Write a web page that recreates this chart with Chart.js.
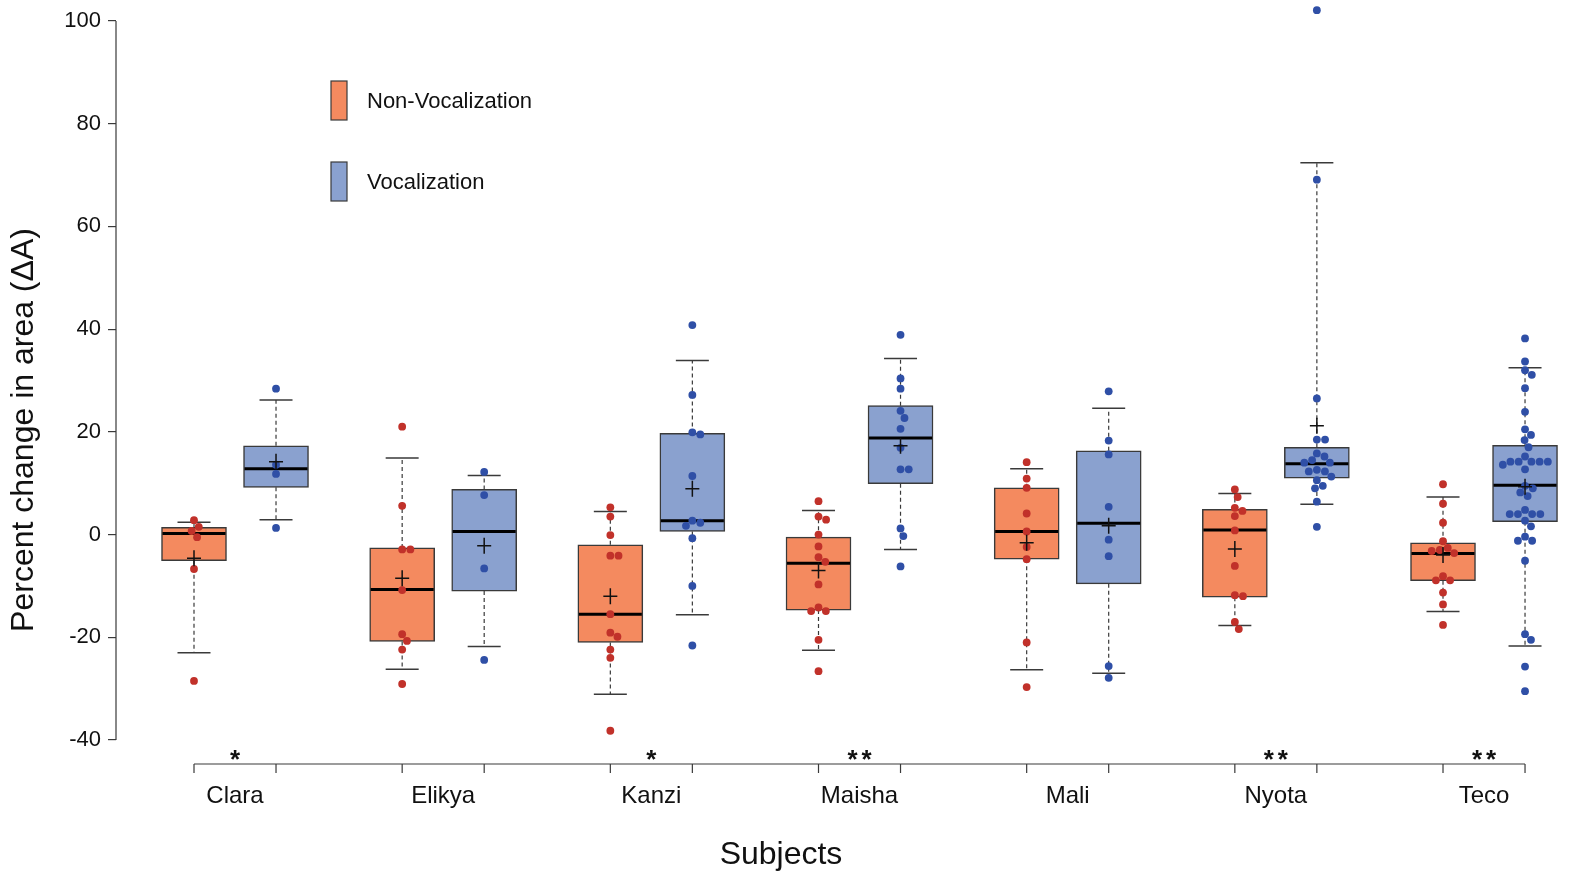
<!DOCTYPE html>
<html><head><meta charset="utf-8">
<script src="https://cdn.jsdelivr.net/npm/chart.js@4"></script>
<style>html,body{margin:0;padding:0;background:#fff;}#wrap{width:1571px;height:876px;position:relative;}</style>
</head><body><div id="wrap"><canvas id="c"></canvas></div>
<script>
// ---------------- data ----------------
const subjects = ['Clara','Elikya','Kanzi','Maisha','Mali','Nyota','Teco'];
const seriesNames = ['Non-Vocalization','Vocalization'];
const yTickValues = [-40,-20,0,20,40,60,80,100];
const significance = ['*','','*','**','','**','**'];

const nvQ1          = [-5.1, -20.8, -21.0, -14.7, -4.8, -12.2, -9.0];
const nvMedian      = [ 0.2, -10.7, -15.5,  -5.6,  0.6,   0.9, -3.7];
const nvQ3          = [ 1.4,  -2.6,  -2.0,  -0.5,  9.1,   4.9, -1.6];
const nvMean        = [-4.6,  -8.5, -12.0,  -7.0, -1.6,  -2.8, -4.0];
const nvWhiskerLow  = [-23.0, -26.2, -31.1, -22.5, -26.3, -17.7, -15.0];
const nvWhiskerHigh = [ 2.4,  14.9,   4.5,   4.7,  12.8,   8.0,   7.3];
const nvPoints = [
  [2.8, 1.5, 0.7, -0.5, -6.7, -28.5],
  [21.0, 5.6, -2.9, -2.9, -10.8, -19.4, -20.7, -22.4, -29.1],
  [5.3, 3.5, -0.1, -4.1, -4.1, -15.5, -19.1, -19.9, -22.4, -24.0, -38.2],
  [6.5, 3.5, 2.9, 0.0, -2.3, -4.4, -5.3, -9.7, -14.2, -14.9, -14.9, -20.5, -26.6],
  [14.1, 10.9, 9.1, 4.1, 0.6, -2.4, -4.8, -21.0, -29.7],
  [8.8, 7.3, 5.2, 4.6, 3.6, 0.8, -6.1, -11.8, -12.0, -17.0, -18.4],
  [9.8, 6.0, 2.3, -1.3, -2.6, -3.0, -3.2, -3.6, -8.1, -8.9, -8.9, -11.3, -13.6, -17.6]
];

const vQ1          = [ 9.2, -11.0,   0.6,  9.9,  -9.6, 11.0,   2.5];
const vMedian      = [12.8,   0.6,   2.7, 18.8,   2.2, 13.8,   9.6];
const vQ3          = [17.3,   8.8,  19.7, 25.1,  16.3, 17.0,  17.4];
const vMean        = [14.2,  -2.2,   8.9, 17.3,   1.7, 21.2,   9.3];
const vWhiskerLow  = [ 2.9, -21.8, -15.6, -2.9, -27.0,  5.9, -21.7];
const vWhiskerHigh = [26.2,  11.5,  33.9, 34.3,  24.6, 72.4,  32.5];
const vPoints = [
  [28.4, 13.6, 11.8, 1.3],
  [12.2, 7.7, -6.6, -24.4],
  [40.8, 27.2, 19.9, 19.5, 11.4, 2.7, 2.3, 1.7, -0.7, -10.0, -21.6],
  [38.9, 30.4, 28.4, 24.1, 22.7, 20.6, 16.9, 12.7, 12.7, 1.2, -0.3, -6.2],
  [27.9, 18.3, 15.6, 5.4, -1.0, -4.2, -25.6, -27.9],
  [102.1, 69.1, 26.5, 18.5, 18.5, 15.8, 15.2, 14.5, 14.0, 14.0, 12.6, 12.3, 12.3, 11.3, 10.6, 9.5, 9.0, 6.4, 1.5],
  [38.2, 33.7, 32.0, 31.1, 28.5, 23.9, 20.5, 19.4, 18.4, 17.0, 15.2, 14.2, 14.2, 14.2, 14.2, 14.2, 13.6, 12.7, 9.5, 9.0, 8.2, 7.5, 4.8, 4.0, 4.0, 4.0, 4.0, 2.7, 1.6, -0.4, -1.2, -1.2, -5.1, -19.4, -20.5, -25.7, -30.5]
];

// ---------------- styling / layout ----------------
const FONT = "'Liberation Sans', Arial, Helvetica, sans-serif";
const TEXT = '#111111';
const LINE = '#3a3a3a';
const PAIR = 0.197;       // half distance between the two boxes of a subject (x units)
const BOX_W = 65, CAP_W = 33, R = 3.9;

const series = [
  {name: seriesNames[0], off: -PAIR, q1: nvQ1, med: nvMedian, q3: nvQ3, mean: nvMean,
   lo: nvWhiskerLow, hi: nvWhiskerHigh, pts: nvPoints, box: '#F48A5F', pt: '#C1312A'},
  {name: seriesNames[1], off: PAIR, q1: vQ1, med: vMedian, q3: vQ3, mean: vMean,
   lo: vWhiskerLow, hi: vWhiskerHigh, pts: vPoints, box: '#8AA1CF', pt: '#2F4FA6'}
];

Chart.defaults.font.family = FONT;
Chart.defaults.color = TEXT;

const datasets = [];
series.forEach(s => datasets.push({
  type: 'bar', label: s.name,
  data: subjects.map((_, i) => ({x: i + s.off, y: [s.q1[i], s.q3[i]]})),
  backgroundColor: s.box, borderColor: LINE, borderWidth: 1.5, borderSkipped: false,
  barThickness: BOX_W, grouped: false, order: 3
}));
series.forEach(s => datasets.push({
  type: 'scatter', label: s.name + ' points',
  data: subjects.flatMap((_, i) => s.pts[i].map(v => ({x: i + s.off, y: v}))),
  backgroundColor: s.pt, borderWidth: 0, pointRadius: R, pointHoverRadius: R, order: 1
}));

function swarm(vals, toPx, d) {
  const idx = vals.map((v, i) => i).sort((a, b) => vals[b] - vals[a]);
  const placed = [], off = new Array(vals.length).fill(0);
  for (const i of idx) {
    const y = toPx(vals[i]);
    const near = placed.filter(p => Math.abs(p.y - y) < d);
    const cands = [0];
    near.forEach(p => { const dx = Math.sqrt(d * d - (p.y - y) ** 2); cands.push(p.x + dx, p.x - dx); });
    cands.sort((a, b) => (Math.abs(a) - Math.abs(b)) || (b - a));
    const x = cands.find(c => near.every(p => (p.x - c) ** 2 + (p.y - y) ** 2 >= d * d - 1e-6));
    placed.push({x, y}); off[i] = x;
  }
  return off;
}

const boxPlugin = {
  id: 'boxExtras',
  afterDatasetDraw(chart, args) {
    if (args.index > 1) return;
    const s = series[args.index];
    const {ctx, scales: {x, y}} = chart;
    ctx.save();
    subjects.forEach((_, i) => {
      const cx = x.getPixelForValue(i + s.off);
      ctx.strokeStyle = LINE; ctx.lineWidth = 1.2; ctx.setLineDash([4, 3]);
      ctx.beginPath();
      ctx.moveTo(cx, y.getPixelForValue(s.q3[i])); ctx.lineTo(cx, y.getPixelForValue(s.hi[i]));
      ctx.moveTo(cx, y.getPixelForValue(s.q1[i])); ctx.lineTo(cx, y.getPixelForValue(s.lo[i]));
      ctx.stroke();
      ctx.setLineDash([]); ctx.lineWidth = 1.5;
      ctx.beginPath();
      [s.hi[i], s.lo[i]].forEach(v => {
        const py = y.getPixelForValue(v);
        ctx.moveTo(cx - CAP_W / 2, py); ctx.lineTo(cx + CAP_W / 2, py);
      });
      ctx.stroke();
      ctx.strokeStyle = '#000'; ctx.lineWidth = 3;
      ctx.beginPath();
      const my = y.getPixelForValue(s.med[i]);
      ctx.moveTo(cx - BOX_W / 2 + 1, my); ctx.lineTo(cx + BOX_W / 2 - 1, my);
      ctx.stroke();
    });
    ctx.restore();
  },
  afterDatasetsDraw(chart) {
    const {ctx, chartArea, scales: {x, y}} = chart;
    ctx.save();
    ctx.strokeStyle = '#111'; ctx.lineWidth = 1.5;
    series.forEach(s => subjects.forEach((_, i) => {
      const cx = x.getPixelForValue(i + s.off), cy = y.getPixelForValue(s.mean[i]);
      ctx.beginPath();
      ctx.moveTo(cx - 7, cy); ctx.lineTo(cx + 7, cy);
      ctx.moveTo(cx, cy - 8); ctx.lineTo(cx, cy + 8);
      ctx.stroke();
    }));
    ctx.strokeStyle = LINE; ctx.lineWidth = 1.2;
    ctx.beginPath();
    ctx.moveTo(chartArea.left, y.getPixelForValue(yTickValues[yTickValues.length - 1]));
    ctx.lineTo(chartArea.left, y.getPixelForValue(yTickValues[0]));
    const by = chartArea.bottom;
    ctx.moveTo(x.getPixelForValue(-PAIR), by);
    ctx.lineTo(x.getPixelForValue(subjects.length - 1 + PAIR), by);
    subjects.forEach((_, i) => series.forEach(s => {
      const px = x.getPixelForValue(i + s.off);
      ctx.moveTo(px, by); ctx.lineTo(px, by + 9);
    }));
    ctx.stroke();
    ctx.fillStyle = TEXT; ctx.font = 'bold 26px ' + FONT;
    ctx.textAlign = 'center'; ctx.textBaseline = 'alphabetic';
    significance.forEach((t, i) => {
      if (!t) return;
      const cx = x.getPixelForValue(i);
      const n = t.length;
      for (let k = 0; k < n; k++) ctx.fillText('*', cx + (k - (n - 1) / 2) * 14, by + 4);
    });
    ctx.font = '32px ' + FONT; ctx.textBaseline = 'middle';
    ctx.fillText('Subjects', 781, 855);
    ctx.save();
    ctx.translate(24, 430); ctx.rotate(-Math.PI / 2);
    ctx.fillText('Percent change in area (\u0394A)', 0, 0);
    ctx.restore();
    ctx.font = '22px ' + FONT; ctx.textAlign = 'left';
    series.forEach((s, k) => {
      const top = 81 + k * 81;
      ctx.fillStyle = s.box; ctx.fillRect(331, top, 16, 39);
      ctx.strokeStyle = LINE; ctx.lineWidth = 1.2; ctx.strokeRect(331, top, 16, 39);
      ctx.fillStyle = TEXT; ctx.fillText(s.name, 367, top + 21);
    });
    ctx.restore();
  }
};

const chart = new Chart(document.getElementById('c'), {
  type: 'bar',
  data: {datasets},
  plugins: [boxPlugin],
  options: {
    responsive: true, maintainAspectRatio: false, animation: false,
    layout: {padding: {top: 5, right: 11, left: 0, bottom: 0}},
    plugins: {legend: {display: false}, tooltip: {enabled: false}},
    events: [],
    scales: {
      x: {
        type: 'linear', offset: false, min: -0.5717, max: 6.365,
        afterBuildTicks: sc => { sc.ticks = subjects.map((_, i) => ({value: i})); },
        afterFit: sc => { sc.height = 112; sc.paddingLeft = 0; sc.paddingRight = 0; },
        ticks: {callback: v => subjects[v], font: {size: 24}, color: TEXT, padding: 18, autoSkip: false, maxRotation: 0},
        grid: {display: false, drawTicks: false},
        border: {display: false}
      },
      y: {
        type: 'linear', min: -44.673, max: 103.115,
        afterBuildTicks: sc => { sc.ticks = yTickValues.map(v => ({value: v})); },
        afterFit: sc => { sc.width = 116; sc.paddingTop = 0; sc.paddingBottom = 0; },
        ticks: {font: {size: 22}, color: TEXT, padding: 7},
        grid: {display: true, drawOnChartArea: false, drawTicks: true, tickLength: 8, color: LINE, lineWidth: 1.2},
        border: {display: false}
      }
    }
  }
});

(function applySwarm() {
  const xs = chart.scales.x, ys = chart.scales.y;
  const pxPerX = xs.getPixelForValue(1) - xs.getPixelForValue(0);
  series.forEach((s, k) => {
    const data = [];
    subjects.forEach((_, i) => {
      const offs = swarm(s.pts[i], v => ys.getPixelForValue(v), 2 * R + 0.4);
      s.pts[i].forEach((v, j) => data.push({x: i + s.off + offs[j] / pxPerX, y: v}));
    });
    chart.data.datasets[2 + k].data = data;
  });
  chart.update('none');
})();
</script></body></html>
